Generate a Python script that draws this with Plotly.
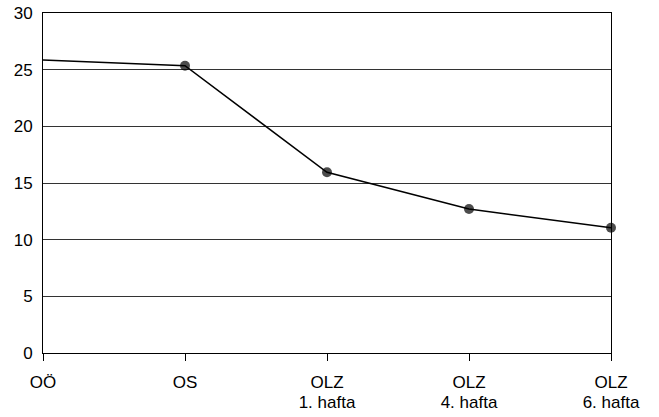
import plotly.graph_objects as go

categories = ["OÖ", "OS", "OLZ 1", "OLZ 4", "OLZ 6"]
tick_main = ["OÖ", "OS", "OLZ", "OLZ", "OLZ"]
tick_sub = ["", "", "1. hafta", "4. hafta", "6. hafta"]
values = [25.85, 25.35, 15.95, 12.7, 11.05]
marker_sizes = [0, 10, 10, 10, 10]

fig = go.Figure()
fig.add_trace(go.Scatter(
    x=categories, y=values, mode="lines+markers",
    line=dict(color="black", width=1.5),
    marker=dict(color="black", size=marker_sizes, line=dict(width=0)),
    cliponaxis=False, showlegend=False,
))
# invisible trace to drive the second (sub-label) axis
fig.add_trace(go.Scatter(
    x=categories, y=values, xaxis="x2", mode="markers",
    marker=dict(opacity=0), hoverinfo="skip", showlegend=False,
))

font = dict(family="Liberation Sans, Arial, sans-serif", size=17, color="black")
fig.update_layout(
    width=659, height=417,
    margin=dict(l=43, r=48, t=13, b=64, autoexpand=False),
    paper_bgcolor="white", plot_bgcolor="white",
    font=font,
    xaxis=dict(
        type="category", range=[0, 4], automargin=False,
        tickvals=categories, ticktext=tick_main,
        showline=True, linecolor="black", linewidth=1, mirror=True,
        ticks="outside", ticklen=7, tickcolor="black", tickwidth=1,
        showgrid=False, zeroline=False, tickfont=font, ticklabelstandoff=7,
    ),
    xaxis2=dict(
        type="category", range=[0, 4], automargin=False, overlaying="x",
        side="bottom", anchor="y",
        tickvals=categories, ticktext=tick_sub,
        showline=False, ticks="outside", ticklen=27,
        tickcolor="rgba(0,0,0,0)", showgrid=False, zeroline=False,
        tickfont=font, ticklabelstandoff=7,
    ),
    yaxis=dict(
        range=[0, 30], tickvals=[0, 5, 10, 15, 20, 25, 30], automargin=False,
        showline=True, linecolor="black", linewidth=1, mirror=True,
        ticks="", showgrid=True, gridcolor="#333333", gridwidth=1,
        zeroline=False, tickfont=font, ticklabelstandoff=6,
    ),
)
fig.write_html("out.html", config={"displayModeBar": False},
               post_script="document.body.style.margin='0';")
